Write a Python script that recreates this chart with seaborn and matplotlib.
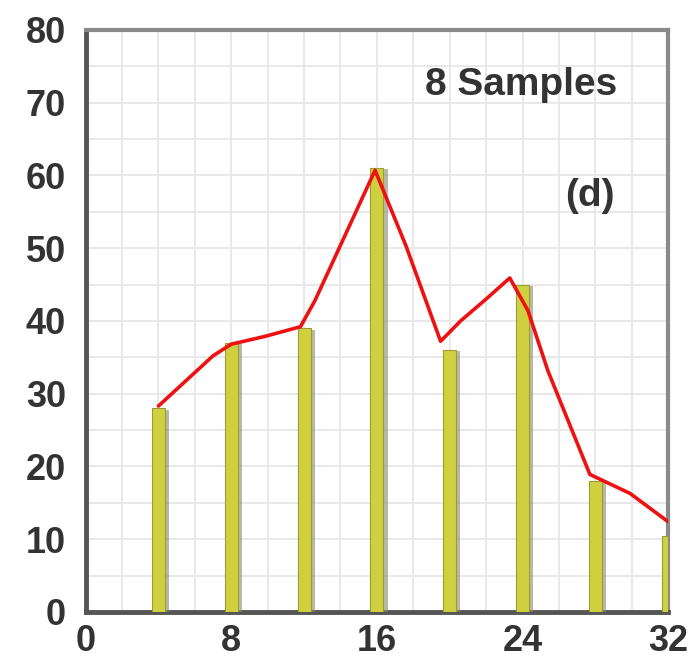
import matplotlib
matplotlib.use("Agg")
import matplotlib.pyplot as plt
import matplotlib.patheffects as pe
import seaborn as sns
import numpy as np

# Data
sample_x = [4, 8, 12, 16, 20, 24, 28, 32]
sample_y = [28, 37, 39, 61, 36, 45, 18, 10.5]
curve_x = [4.0, 7.0, 8.0, 9.9, 11.8, 12.6, 15.9, 17.6, 19.5, 20.6, 22.0, 23.3, 24.3, 25.4, 27.7, 29.9, 32.0]
curve_y = [28.3, 35.2, 36.8, 37.9, 39.2, 42.8, 60.7, 50.3, 37.2, 40.0, 43.0, 45.9, 41.4, 33.1, 18.9, 16.3, 12.4]
x_ticks = [0, 8, 16, 24, 32]
y_ticks = [0, 10, 20, 30, 40, 50, 60, 70, 80]

sns.set_style("white")
plt.rcParams['font.family'] = ['Liberation Sans', 'DejaVu Sans']

fig = plt.figure(figsize=(6.96, 6.63), dpi=100)
ax = fig.add_axes([0.123, 0.077, 0.837, 0.878])

sns.barplot(x=sample_x, y=sample_y, native_scale=True, width=0.18, saturation=1,
            color="#cfd040", edgecolor="#9c9c30", linewidth=0.8, ax=ax, zorder=3)
for p in ax.patches:
    p.set_path_effects([pe.SimplePatchShadow(offset=(3, -1), shadow_rgbFace="#8a8a70", alpha=0.6),
                        pe.Normal()])
sns.lineplot(x=curve_x, y=curve_y, sort=False, color="#ee1111", linewidth=2.6, ax=ax, zorder=4)

ax.set_xlim(0, 32)
ax.set_ylim(0, 80)
ax.set_xticks(x_ticks)
ax.set_yticks(y_ticks)
ax.set_xticks(np.arange(0, 33, 2), minor=True)
ax.set_yticks(np.arange(0, 81, 5), minor=True)
ax.grid(which="both", color="#e8e8e8", linewidth=1.4, zorder=0)
ax.set_axisbelow(True)

ax.tick_params(axis="both", which="major", labelsize=26, direction="in", length=6, width=2,
               color="#555555")
ax.tick_params(axis="x", which="major", pad=9)
ax.tick_params(axis="y", which="major", pad=14)
ax.tick_params(axis="both", which="minor", direction="in", length=4, width=1.5, color="#666666")
for lbl in ax.get_xticklabels() + ax.get_yticklabels():
    lbl.set_fontweight("bold")
    lbl.set_color("#333333")

for side in ["left", "bottom"]:
    ax.spines[side].set_visible(True)
    ax.spines[side].set_color("#555555")
    ax.spines[side].set_linewidth(3.5)
for side in ["top", "right"]:
    ax.spines[side].set_visible(True)
    ax.spines[side].set_color("#8a8a8a")
    ax.spines[side].set_linewidth(3)

ax.text(23.9, 72.4, "8 Samples", fontsize=28, fontweight="bold", color="#333333",
        ha="center", va="center")
ax.text(27.7, 57.2, "(d)", fontsize=28, fontweight="bold", color="#333333",
        ha="center", va="center")

ax.set_xlabel("")
ax.set_ylabel("")
fig.savefig("out.png", dpi=100)
